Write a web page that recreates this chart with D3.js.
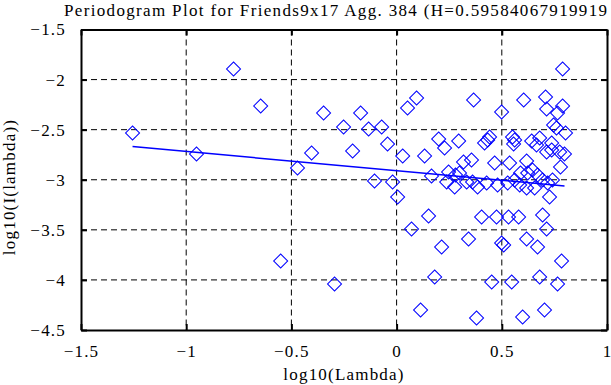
<!DOCTYPE html>
<html><head><meta charset="utf-8">
<script src="https://cdn.jsdelivr.net/npm/d3@7"></script>
<style>
html,body{margin:0;padding:0;background:#fff;}
svg{display:block;font-family:"Liberation Serif","Times New Roman",serif;}
</style></head>
<body>
<svg id="chart" width="611" height="385"></svg>
<script>
// ---- data ----
const titleText = "Periodogram Plot for Friends9x17 Agg. 384 (H=0.59584067919919";
const xLabel = "log10(Lambda)";
const yLabel = "log10(I(lambda))";
const xTicks = [-1.5, -1, -0.5, 0, 0.5, 1];
const yTicks = [-4.5, -4, -3.5, -3, -2.5, -2, -1.5];
const logLambda = [
 -1.255,-0.951,-0.775,-0.646,-0.551,-0.471,-0.404,-0.347,-0.295,-0.252,
 -0.209,-0.171,-0.133,-0.105,-0.071,-0.043,-0.019,0.005,0.052,0.095,
 0.029,0.133,0.200,0.228,0.166,0.238,0.247,0.152,0.071,0.214,
 0.181,0.114,0.789,0.366,0.499,0.604,0.708,0.713,0.789,0.765,
 0.746,0.760,0.803,0.295,0.418,0.433,0.442,0.551,0.561,0.556,
 0.642,0.680,0.665,0.737,0.713,0.737,0.775,0.798,0.779,0.318,
 0.356,0.466,0.537,0.618,0.646,0.299,0.276,0.333,0.385,0.428,
 0.480,0.528,0.585,0.618,0.656,0.718,0.741,0.727,0.404,0.475,
 0.532,0.580,0.694,0.713,0.342,0.499,0.509,0.618,0.670,0.784,
 0.452,0.547,0.680,0.765,0.380,0.599,0.703,0.623,0.670,0.694,
 0.280,0.361,0.561,0.589
];
const logPower = [
 -2.533,-2.743,-1.895,-2.264,-3.811,-2.883,-2.733,-2.334,-4.041,-2.473,
 -2.713,-2.334,-2.493,-3.012,-2.473,-2.643,-3.022,-3.172,-2.284,-2.184,
 -2.763,-2.763,-2.593,-2.683,-2.963,-3.022,-2.923,-3.362,-3.492,-3.671,
 -3.971,-4.300,-1.895,-2.204,-2.324,-2.204,-2.174,-2.294,-2.264,-2.334,
 -2.453,-2.483,-2.533,-2.613,-2.633,-2.603,-2.573,-2.573,-2.603,-2.643,
 -2.613,-2.583,-2.653,-2.633,-2.723,-2.703,-2.723,-2.743,-2.873,-2.823,
 -2.803,-2.833,-2.833,-2.813,-2.903,-2.933,-3.072,-3.022,-3.072,-3.032,
 -3.052,-3.032,-3.052,-3.082,-3.082,-3.032,-3.002,-3.172,-3.372,-3.372,
 -3.372,-3.372,-3.352,-3.492,-3.592,-3.632,-3.652,-3.592,-3.671,-3.811,
 -4.021,-4.021,-3.971,-4.041,-4.380,-4.370,-4.300,-2.933,-2.953,-3.002,
 -2.953,-3.022,-3.002,-2.933
];
const fitX = [-1.255, 0.798];
const fitSlope = [-0.19168];
const fitIntercept = [-2.9096];

// ---- layout ----
const L = 81, R = 607, T = 29.5, B = 330;
const FS = 17, LS = 1.2;
const svg = d3.select("#chart");
const x = d3.scaleLinear().domain([-1.5, 1]).range([L, R]);
const y = d3.scaleLinear().domain([-4.5, -1.5]).range([B, T]);
const fmt = d => String(d).replace("-", "\u2212");

// grid
const g = svg.append("g");
g.selectAll(".vg").data(xTicks.slice(1, -1)).enter().append("line")
  .attr("x1", d => x(d)).attr("x2", d => x(d)).attr("y1", T).attr("y2", B)
  .attr("stroke", "#000").attr("stroke-width", 1).attr("stroke-dasharray", "6,4");
g.selectAll(".hg").data(yTicks.slice(1, -1)).enter().append("line")
  .attr("y1", d => y(d)).attr("y2", d => y(d)).attr("x1", L).attr("x2", R)
  .attr("stroke", "#000").attr("stroke-width", 1).attr("stroke-dasharray", "6,4");

// axes
const tl = 6;
svg.append("g").attr("transform", `translate(0,${B})`)
  .call(d3.axisBottom(x).tickValues(xTicks).tickFormat(fmt).tickSizeInner(-tl).tickSizeOuter(0).tickPadding(15));
svg.append("g").attr("transform", `translate(0,${T})`)
  .call(d3.axisTop(x).tickValues(xTicks).tickFormat("").tickSizeInner(-tl).tickSizeOuter(0));
svg.append("g").attr("transform", `translate(${L},0)`)
  .call(d3.axisLeft(y).tickValues(yTicks).tickFormat(fmt).tickSizeInner(-tl).tickSizeOuter(0).tickPadding(15));
svg.append("g").attr("transform", `translate(${R},0)`)
  .call(d3.axisRight(y).tickValues(yTicks).tickFormat("").tickSizeInner(-tl).tickSizeOuter(0));
svg.selectAll(".domain").attr("stroke", "#000").attr("stroke-width", 2);
svg.selectAll(".tick line").attr("stroke", "#000").attr("stroke-width", 2);
svg.selectAll(".tick text").attr("font-family", "Liberation Serif, Times New Roman, serif")
  .attr("font-size", FS).attr("letter-spacing", LS).attr("fill", "#000");

// points
const pts = logLambda.map((v, i) => ({x: v, y: logPower[i]}));
const sym = d3.symbol().type(d3.symbolSquare).size(98);
svg.append("g").selectAll("path").data(pts).enter().append("path")
  .attr("d", sym)
  .attr("transform", d => `translate(${x(d.x)},${y(d.y)}) rotate(45)`)
  .attr("fill", "none").attr("stroke", "#0000ff").attr("stroke-width", 1);

// fit line
const line = d3.line().x(d => x(d)).y(d => y(fitIntercept[0] + fitSlope[0] * d));
svg.append("path").datum(fitX).attr("d", line)
  .attr("fill", "none").attr("stroke", "#0000ff").attr("stroke-width", 1.5);

// labels
svg.append("text").attr("x", 64).attr("y", 16).attr("font-size", 17)
  .attr("textLength", 543).attr("lengthAdjust", "spacing").text(titleText);
svg.append("text").attr("x", (L + R) / 2).attr("y", 380).attr("text-anchor", "middle")
  .attr("font-size", FS).attr("letter-spacing", LS).text(xLabel);
svg.append("text").attr("transform", `translate(15,187) rotate(-90)`)
  .attr("text-anchor", "middle").attr("font-size", FS).attr("letter-spacing", LS).text(yLabel);
</script>
</body></html>
